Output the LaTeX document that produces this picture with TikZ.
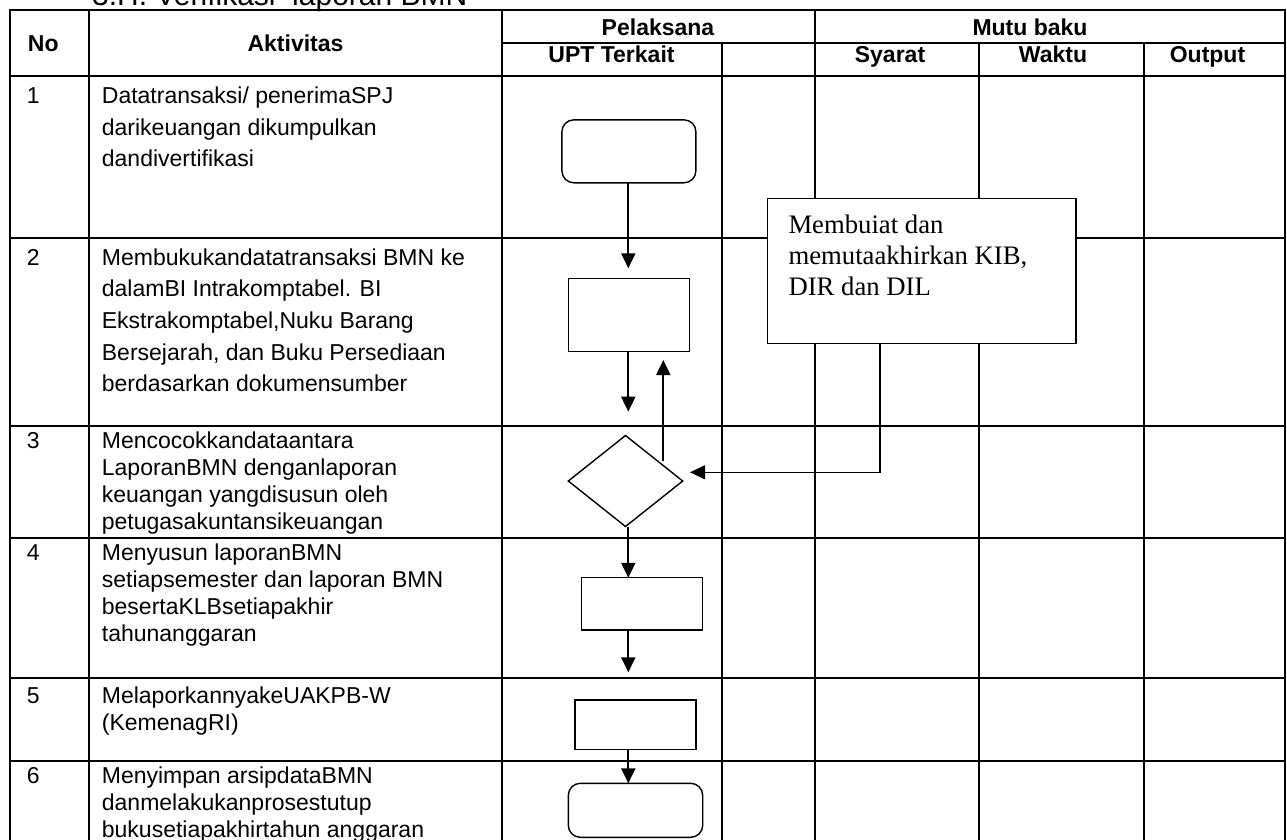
\documentclass[tikz,border=0pt]{standalone}
\usepackage{fontspec}
\setmainfont{Liberation Sans}
\newfontfamily\serifbox{Liberation Serif}
\usetikzlibrary{arrows.meta,shapes.geometric}
\begin{document}
\begin{tikzpicture}[x=1pt,y=-1pt,
  grid/.style={line width=2pt, line cap=rect},
  shp/.style={draw, line width=1.4pt, fill=white, inner sep=0pt, outer sep=0pt},
  rshp/.style={shp, rounded corners=12pt},
  arr/.style={line width=2pt, -{Triangle[length=15pt,width=14pt]}},
  thinarr/.style={line width=1.3pt, -{Triangle[length=15pt,width=14pt]}},
  hdr/.style={font=\fontsize{23}{27}\selectfont\bfseries, inner sep=0pt, anchor=base},
  num/.style={font=\fontsize{23}{27}\selectfont, inner sep=0pt, anchor=base west},
  txta/.style={font=\fontsize{23}{31.7}\selectfont, inner sep=0pt, anchor=base west},
  txtb/.style={font=\fontsize{23}{27}\selectfont, inner sep=0pt, anchor=base west},
]
\useasboundingbox (0,0) rectangle (1287,839);
\clip (0,0) rectangle (1287,839);
\fill[white] (0,0) rectangle (1287,839);

% title (cut off at top)
\node[font=\fontsize{30}{36}\selectfont, anchor=base west, inner sep=0pt] (title) at (92,5) {3.H. Verifikasi \ laporan BMN};

% table grid
\draw[grid] (10,10) -- (1285,10);
\draw[grid] (502,43) -- (1285,43);
\draw[grid] (10,76) -- (1285,76);
\draw[grid] (10,238) -- (1285,238);
\draw[grid] (10,426) -- (1285,426);
\draw[grid] (10,538) -- (1285,538);
\draw[grid] (10,678) -- (1285,678);
\draw[grid] (10,761) -- (1285,761);
\draw[grid] (10,10) -- (10,845);
\draw[grid] (89,10) -- (89,845);
\draw[grid] (502,10) -- (502,845);
\draw[grid] (722,43) -- (722,845);
\draw[grid] (815,10) -- (815,845);
\draw[grid] (979,43) -- (979,845);
\draw[grid] (1144,43) -- (1144,845);
\draw[grid] (1285,10) -- (1285,845);

% headers
\node[hdr] (hno) at (43.3,51) {No};
\node[hdr] (hakt) at (295.5,51) {Aktivitas};
\node[hdr] (hpel) at (658,35) {Pelaksana};
\node[hdr] (hmutu) at (1030,35) {Mutu baku};
\node[hdr] (hupt) at (611.5,62) {UPT Terkait};
\node[hdr] (hsya) at (890,62) {Syarat};
\node[hdr] (hwak) at (1053,62) {Waktu};
\node[hdr] (hout) at (1207.5,62) {Output};

% numbers
\node[num] (n1) at (26.7,103.3) {1};
\node[num] (n2) at (26.7,265) {2};
\node[num] (n3) at (26.7,448.3) {3};
\node[num] (n4) at (26.7,560) {4};
\node[num] (n5) at (26.7,703.3) {5};
\node[num] (n6) at (26.7,783.3) {6};

% activities
\node[txta] (a1) at (101.7,103.3) {\begin{tabular}[t]{@{}l@{}}Datatransaksi/ penerimaSPJ\\darikeuangan dikumpulkan\\dandivertifikasi\end{tabular}};
\node[txta] (a2) at (101.7,265) {\begin{tabular}[t]{@{}l@{}}Membukukandatatransaksi BMN ke\\dalamBI Intrakomptabel. BI\\Ekstrakomptabel,Nuku Barang\\Bersejarah, dan Buku Persediaan\\berdasarkan dokumensumber\end{tabular}};
\node[txtb] (a3) at (101.7,448.3) {\begin{tabular}[t]{@{}l@{}}Mencocokkandataantara\\LaporanBMN denganlaporan\\keuangan yangdisusun oleh\\petugasakuntansikeuangan\end{tabular}};
\node[txtb] (a4) at (101.7,560) {\begin{tabular}[t]{@{}l@{}}Menyusun laporanBMN\\setiapsemester dan laporan BMN\\besertaKLBsetiapakhir\\tahunanggaran\end{tabular}};
\node[txtb] (a5) at (101.7,703.3) {\begin{tabular}[t]{@{}l@{}}MelaporkannyakeUAKPB-W\\(KemenagRI)\end{tabular}};
\node[txtb] (a6) at (101.7,783.3) {\begin{tabular}[t]{@{}l@{}}Menyimpan arsipdataBMN\\danmelakukanprosestutup\\bukusetiapakhirtahun anggaran\end{tabular}};

% flowchart shapes
\node[rshp, minimum width=134pt, minimum height=63pt] (s1) at (628.9,151.3) {};
\node[shp, minimum width=121pt, minimum height=73.4pt] (s2) at (628.8,315) {};
\node[shp, diamond, minimum width=114.4pt, minimum height=91pt] (s3) at (625.5,481) {};
\node[shp, minimum width=121pt, minimum height=52.3pt] (s4) at (642.2,603.9) {};
\node[shp, minimum width=121pt, minimum height=49.3pt] (s5) at (635.5,724.7) {};
\node[rshp, minimum width=134.4pt, minimum height=54pt] (s6) at (635.5,810.3) {};

% side box
\node[shp, minimum width=308.7pt, minimum height=145pt] (kib) at (921.7,270.8) {};
\node[font=\serifbox\fontsize{26.7}{31}\selectfont, anchor=base west, inner sep=0pt] (kibtxt) at (788.3,233.3) {\begin{tabular}[t]{@{}l@{}}Membuiat dan\\memutaakhirkan KIB,\\DIR dan DIL\end{tabular}};

% connectors
\coordinate (ax) at (628.3,0);
\coordinate (upx) at (663.3,0);
\coordinate (turn) at (880,472.3);
\coordinate (e4) at (628.3,672.3);
\draw[arr, shorten >=10pt] (s1.south -| ax) -- (s2.north -| ax);
\draw[arr, shorten >=23.8pt] (s2.south -| ax) -- (s3.north -| ax);
\draw[arr, shorten >=8.3pt] ([shift={(37.8,-20.3)}]s3.center) -- (s2.south -| upx);
\draw[arr] (s3.south -| ax) -- (s4.north -| ax);
\draw[arr] (s4.south -| ax) -- (e4);
\draw[arr] (s5.south -| ax) -- (s6.north -| ax);
\draw[thinarr, shorten >=7.3pt] (kib.south -| turn) |- (s3.east |- turn);
\end{tikzpicture}
\end{document}
